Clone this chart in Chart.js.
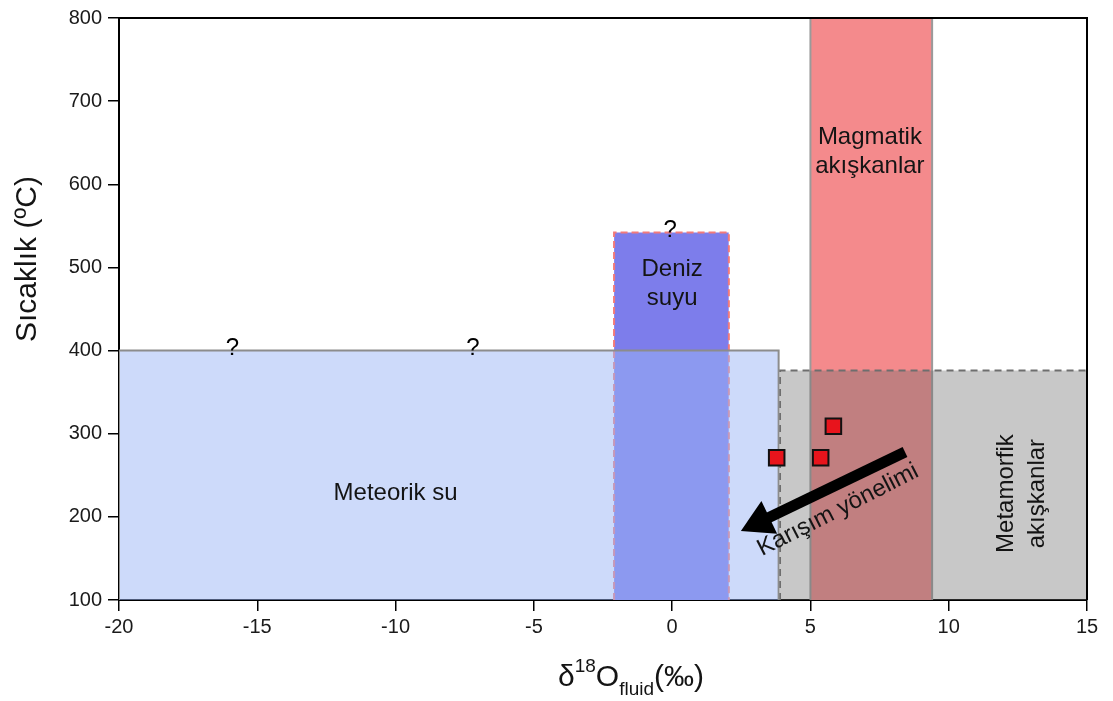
<!DOCTYPE html>
<html>
<head>
<meta charset="utf-8">
<script src="https://cdn.jsdelivr.net/npm/chart.js@4/dist/chart.umd.min.js"></script>
<style>
  body { margin: 0; background: #fff; }
  #wrap { width: 1113px; height: 701px; }
</style>
</head>
<body>
<div id="wrap"><canvas id="isoChart" width="1113" height="701"></canvas></div>
<script>
// axis ranges / ticks
var xRange = [-20, 15];
var yRange = [100, 800];
var xStep = 5;
var yStep = 100;

// fluid fields: [x from, x to, top temperature]
var meteoric = [-20, 3.85, 400];
var seaWater = [-2.1, 2.05, 542];
var magmatic = [5, 9.4, 800];
var metamorphic = [3.9, 15, 376];

// samples
var sampleD18O = [3.78, 5.37, 5.83];
var sampleTemp = [271, 271, 309];

// mixing trend arrow (start -> head)
var mixD18O = [8.42, 3.17];
var mixTemp = [278, 194];

// "?" marks on uncertain upper limits
var questionD18O = [-15.9, -7.2, -0.07];
var questionTemp = [meteoric[2], meteoric[2], seaWater[2]];

function box(f){
    return [{x:f[0],y:yRange[0]},{x:f[0],y:f[2]},{x:f[1],y:f[2]},{x:f[1],y:yRange[0]}];
}

var font = "'Liberation Sans', Arial, sans-serif";

// text labels inside the diagram
var notes = [
    {t:'Meteorik su', x:-10, y:228, rot:0},
    {t:'Deniz', x:0, y:498, rot:0},
    {t:'suyu', x:0, y:463, rot:0},
    {t:'Magmatik', x:7.15, y:657, rot:0},
    {t:'akışkanlar', x:7.15, y:621, rot:0},
    {t:'Metamorfik', x:12.1, y:228, rot:-90},
    {t:'akışkanlar', x:13.2, y:228, rot:-90},
    {t:'Karışım yönelimi', x:6.0, y:208, rot:-27}
];

var extras = {
    id: 'extras',
    afterDatasetsDraw: function(chart){
        var ctx = chart.ctx, xs = chart.scales.x, ys = chart.scales.y, a = chart.chartArea;
        ctx.save();
        ctx.fillStyle = '#141414';
        ctx.textAlign = 'center';
        ctx.textBaseline = 'middle';
        ctx.font = '24px ' + font;
        notes.forEach(function(n){
            ctx.save();
            ctx.translate(xs.getPixelForValue(n.x), ys.getPixelForValue(n.y));
            ctx.rotate(n.rot * Math.PI / 180);
            ctx.fillText(n.t, 0, 0);
            ctx.restore();
        });
        ctx.font = '24px ' + font;
        ctx.textBaseline = 'alphabetic';
        ctx.fillStyle = '#000';
        for (var i = 0; i < questionD18O.length; i++) {
            ctx.fillText('?', xs.getPixelForValue(questionD18O[i]), ys.getPixelForValue(questionTemp[i]) + 4);
        }
        // frame on top and right
        ctx.strokeStyle = '#000';
        ctx.lineWidth = 2;
        ctx.beginPath();
        ctx.moveTo(a.left, a.top);
        ctx.lineTo(a.right, a.top);
        ctx.lineTo(a.right, a.bottom);
        ctx.stroke();
        ctx.restore();
    },
    afterDraw: function(chart){
        var ctx = chart.ctx;
        ctx.save();
        ctx.fillStyle = '#141414';
        // y title
        ctx.translate(28, 259);
        ctx.rotate(-Math.PI / 2);
        ctx.textAlign = 'center';
        ctx.textBaseline = 'middle';
        ctx.font = '30px ' + font;
        ctx.fillText('Sıcaklık (ºC)', 0, 0);
        ctx.restore();

        // x title with super/subscripts
        ctx.save();
        ctx.fillStyle = '#141414';
        ctx.textBaseline = 'alphabetic';
        var parts = [
            {s:'δ', f:30, dy:0},
            {s:'18', f:19, dy:-14},
            {s:'O', f:30, dy:0},
            {s:'fluid', f:19, dy:9},
            {s:'(‰)', f:30, dy:0}
        ];
        var w = 0;
        parts.forEach(function(p){ ctx.font = p.f + 'px ' + font; p.w = ctx.measureText(p.s).width; w += p.w; });
        var x = 631 - w / 2, base = 686;
        parts.forEach(function(p){
            ctx.font = p.f + 'px ' + font;
            ctx.fillText(p.s, x, base + p.dy);
            x += p.w;
        });
        ctx.restore();
    }
};

var ctx = document.getElementById('isoChart');
var chart = new Chart(ctx, {
    type: 'scatter',
    data: {
        datasets: [
            {
                label: 'Örnekler',
                data: sampleD18O.map(function(v, i){ return {x:v, y:sampleTemp[i]}; }),
                pointStyle: 'rect',
                pointRadius: 11,
                pointBackgroundColor: '#e8141c',
                pointBorderColor: '#111',
                pointBorderWidth: 2
            },
            {
                type: 'line',
                label: 'Karışım',
                data: mixD18O.map(function(v, i){ return {x:v, y:mixTemp[i]}; }),
                borderColor: '#000',
                borderWidth: 11,
                pointStyle: 'triangle',
                pointRadius: [0, 21],
                pointRotation: 244.4,
                pointBackgroundColor: '#000',
                pointBorderWidth: 0,
                fill: false
            },
            {
                type: 'line',
                label: 'Meteorik su',
                data: box(meteoric),
                borderColor: '#8c8c8c',
                borderWidth: 2,
                backgroundColor: 'rgba(155,181,245,0.5)',
                fill: {value: yRange[0]},
                pointRadius: 0,
                tension: 0
            },
            {
                type: 'line',
                label: 'Deniz suyu',
                data: box(seaWater),
                borderColor: '#f27a7a',
                borderWidth: 2,
                borderDash: [7, 4],
                backgroundColor: '#7d7deb',
                fill: {value: yRange[0]},
                pointRadius: 0,
                tension: 0
            },
            {
                type: 'line',
                label: 'Metamorfik akışkanlar',
                data: box(metamorphic),
                borderColor: '#6e6e6e',
                borderWidth: 2,
                borderDash: [7, 5],
                backgroundColor: 'rgba(110,110,110,0.38)',
                fill: {value: yRange[0]},
                pointRadius: 0,
                tension: 0
            },
            {
                type: 'line',
                label: 'Magmatik akışkanlar',
                data: box(magmatic),
                borderColor: '#9a9a9a',
                borderWidth: 2,
                backgroundColor: '#f48a8c',
                fill: {value: yRange[0]},
                pointRadius: 0,
                tension: 0
            }
        ]
    },
    options: {
        responsive: false,
        animation: false,
        layout: { autoPadding: false, padding: {top: 16, right: 26, left: 0, bottom: 0} },
        plugins: { legend: {display: false}, tooltip: {enabled: false} },
        scales: {
            x: {
                type: 'linear',
                min: xRange[0], max: xRange[1],
                afterFit: function(s){ s.height = 101; },
                ticks: { stepSize: xStep, color: '#1a1a1a', font: {family: font, size: 20}, padding: 4, maxRotation: 0 },
                grid: { drawOnChartArea: false, color: '#000', tickLength: 11, lineWidth: 1.5 },
                border: { color: '#000', width: 2 }
            },
            y: {
                type: 'linear',
                min: yRange[0], max: yRange[1],
                afterFit: function(s){ s.width = 119; },
                ticks: { stepSize: yStep, color: '#1a1a1a', font: {family: font, size: 20}, padding: 6 },
                grid: { drawOnChartArea: false, color: '#000', tickLength: 11, lineWidth: 1.5 },
                border: { color: '#000', width: 2 }
            }
        }
    },
    plugins: [extras]
});
</script>
</body>
</html>
